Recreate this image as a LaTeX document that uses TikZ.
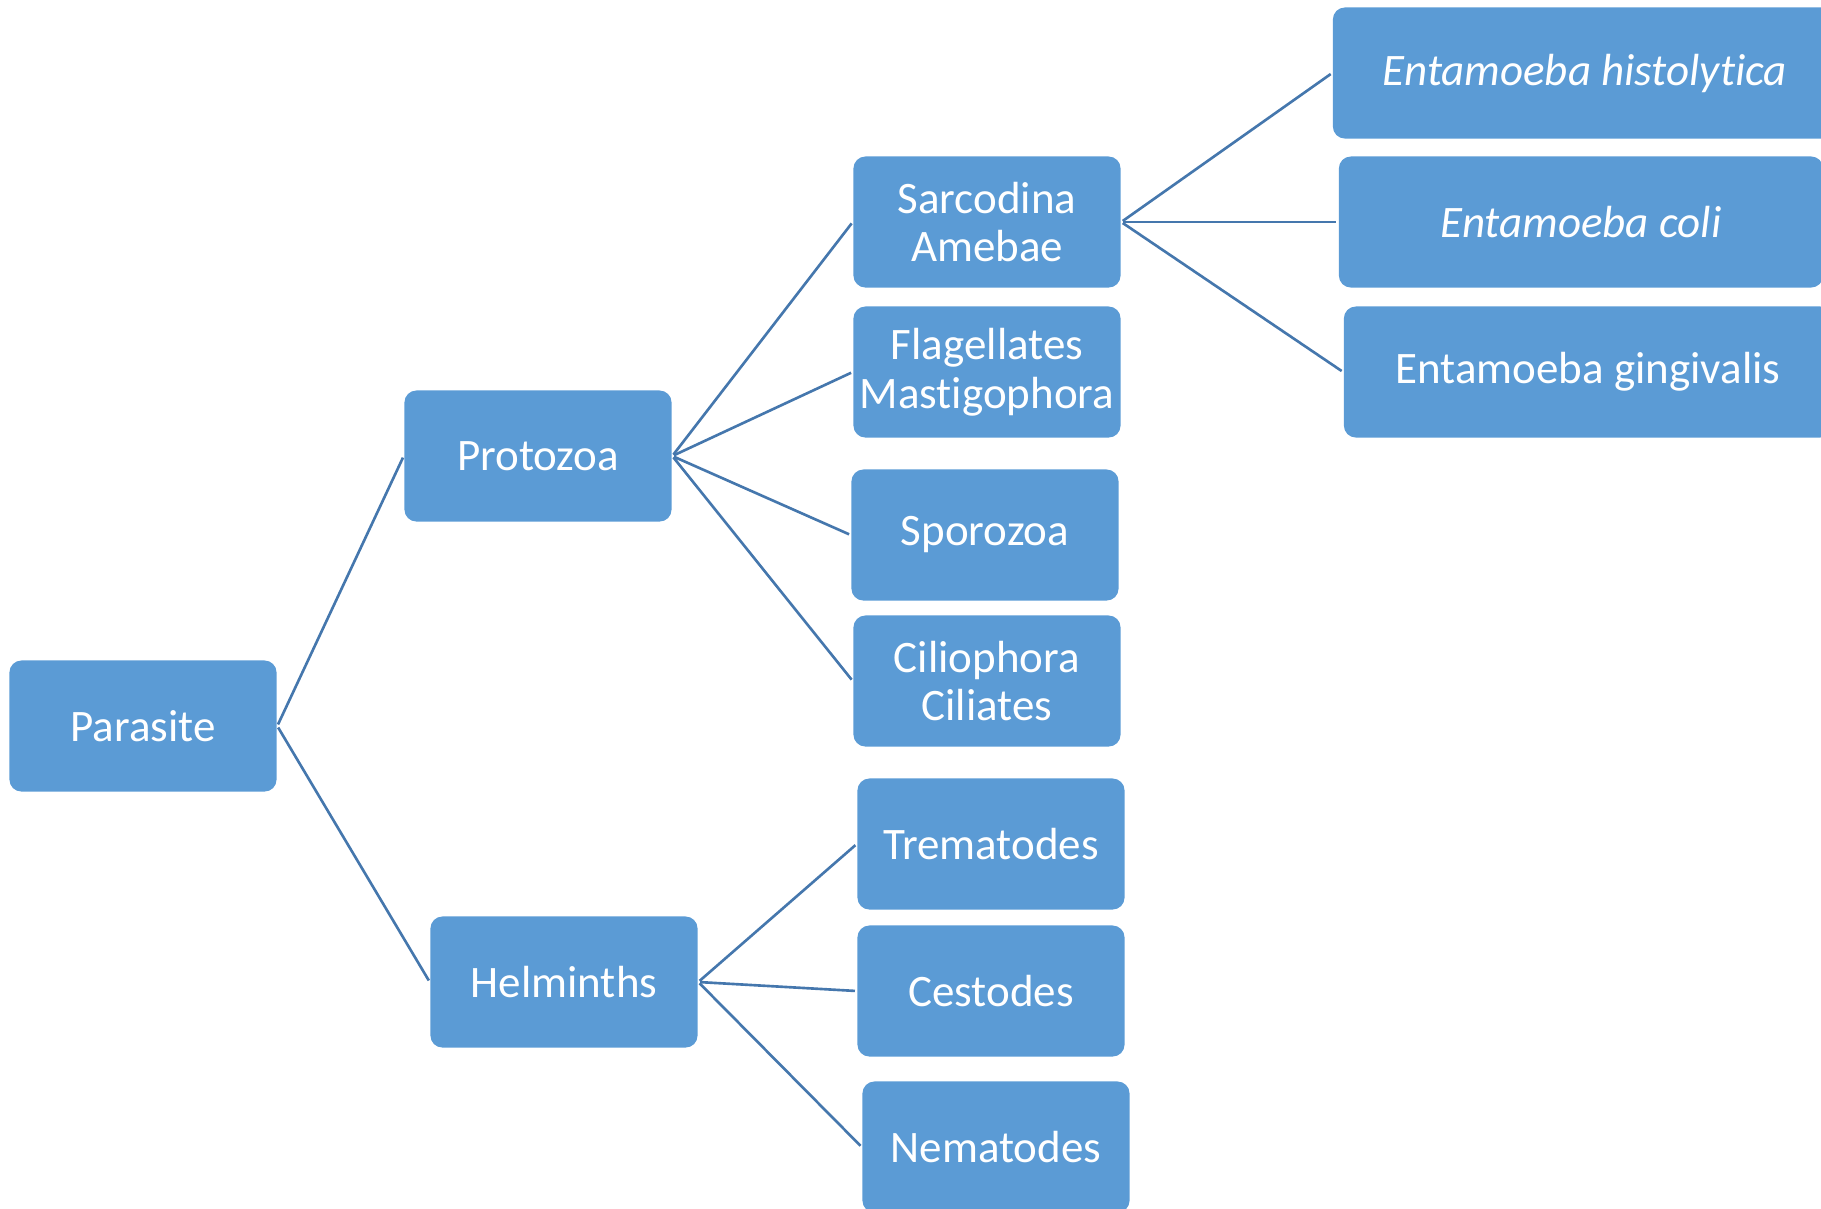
\documentclass[tikz,border=0pt]{standalone}
\usepackage{fontspec}
\setmainfont{Carlito}[Ligatures=NoCommon]
\usetikzlibrary{positioning}
\definecolor{boxblue}{HTML}{5B9BD5}
\definecolor{lineblue}{HTML}{4577AD}
\tikzset{
	taxon/.style={fill=boxblue, rounded corners=0.12cm, text=white, align=center,
		minimum width=2.67cm, minimum height=1.31cm, inner sep=0pt,
		font=\fontsize{12.8}{13.9}\selectfont},
	branch/.style={draw=lineblue, line width=0.75pt, shorten <=0.5pt, shorten >=0.5pt}
}

\begin{document}
\begin{tikzpicture}[x=0.01cm, y=-0.01cm]
	\clip (0,0) rectangle (1821,1208);
	\node[taxon] (parasite) at (143,726){Parasite};%root
	\node[taxon] (protozoa) at (538,456){Protozoa};
	\node[taxon] (helminths) at (564,982){Helminths};
	\node[taxon] (sarcodina) at (987,222){Sarcodina\\Amebae};
	\node[taxon] (flagellates) at (987,372){Flagellates\\Mastigophora};
	\node[taxon] (sporozoa) at (985,535){Sporozoa};
	\node[taxon] (ciliophora) at (987,681){Ciliophora\\Ciliates};
	\node[taxon] (trematodes) at (991,844){Trematodes};
	\node[taxon] (cestodes) at (991,991){Cestodes};
	\node[taxon] (nematodes) at (996,1147){Nematodes};
	\node[taxon, minimum width=5.04cm] (histolytica) at (1585,73){\textit{Entamoeba histolytica}};
	\node[taxon, minimum width=4.84cm] (coli) at (1581,222){\textit{Entamoeba coli}};
	\node[taxon, minimum width=4.88cm] (gingivalis) at (1588,372){Entamoeba gingivalis};
	\draw[branch] (parasite.east) -- (protozoa.west);
	\draw[branch] (parasite.east) -- (helminths.west);
	\draw[branch] (protozoa.east) -- (sarcodina.west);
	\draw[branch] (protozoa.east) -- (flagellates.west);
	\draw[branch] (protozoa.east) -- (sporozoa.west);
	\draw[branch] (protozoa.east) -- (ciliophora.west);
	\draw[branch] (helminths.east) -- (trematodes.west);
	\draw[branch] (helminths.east) -- (cestodes.west);
	\draw[branch] (helminths.east) -- (nematodes.west);
	\draw[branch] (sarcodina.east) -- (histolytica.west);
	\draw[branch] (sarcodina.east) -- (coli.west);
	\draw[branch] (sarcodina.east) -- (gingivalis.west);
\end{tikzpicture}
\end{document}
